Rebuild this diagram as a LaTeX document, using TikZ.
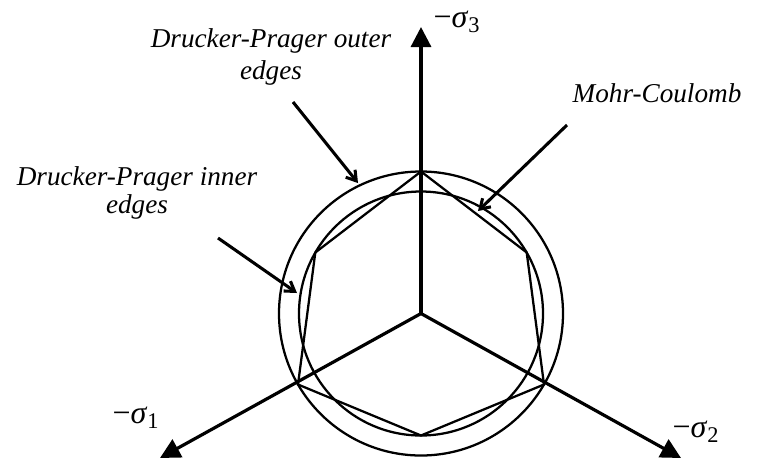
\documentclass[tikz,border=0pt]{standalone}
\usepackage{fontspec}
\setmainfont{Liberation Serif}
\usetikzlibrary{arrows.meta}

\begin{document}
\begin{tikzpicture}[x=0.75pt, y=-0.75pt,
  axis/.style={line width=2.4pt, -{Triangle[length=15pt, width=15pt]}},
  rim/.style={line width=1.7pt},
  ptr/.style={line width=2.3pt, -{Straight Barb[length=7pt, width=9pt]}},
  lbl/.style={align=center, inner sep=0pt, font=\fontsize{20.4}{24}\selectfont\itshape},
  sig/.style={inner sep=0pt, font=\fontsize{24}{24}\selectfont}]

\useasboundingbox (0,0) rectangle (757,462);

% origin and axis tips
\coordinate (O) at (421,313.5);
\coordinate (t3) at (421,27);
\coordinate (t1) at (160,458);
\coordinate (t2) at (681,458);

% Drucker-Prager cones
\draw[rim] (O) circle (142);
\draw[rim] (O) circle (122);

% Mohr-Coulomb hexagon
\draw[rim, line join=miter] (421,171.5) -- (526.7,252.5) -- (544,384.5) -- (421,435.5)
  -- (298,384.5) -- (315.3,252.5) -- cycle;

% principal stress axes
\draw[axis] (O) -- (t3);
\draw[axis] (O) -- (t1);
\draw[axis] (O) -- (t2);
\node[sig] at (457,22) (s3) {−\textit{σ}\textsubscript{3}};
\node[sig] at (136,418) (s1) {−\textit{σ}\textsubscript{1}};
\node[sig] at (696,432) (s2) {−\textit{σ}\textsubscript{2}};

% labels
\node[lbl] at (271,57) (dpo) {Drucker-Prager outer\\ edges};
\node[lbl, font=\fontsize{20.4}{21}\selectfont\itshape] at (137,193) (dpi) {Drucker-Prager inner\\ edges};
\node[lbl] at (657,93) (mc) {Mohr-Coulomb};

% pointers
\coordinate (po1) at (293,102);
\coordinate (po2) at (358,183);
\coordinate (pi1) at (218,238);
\coordinate (pi2) at (297,293);
\coordinate (pm1) at (567,125);
\coordinate (pm2) at (478,211);
\draw[ptr] (po1) -- (po2);
\draw[ptr] (pi1) -- (pi2);
\draw[ptr] (pm1) -- (pm2);
\end{tikzpicture}
\end{document}
